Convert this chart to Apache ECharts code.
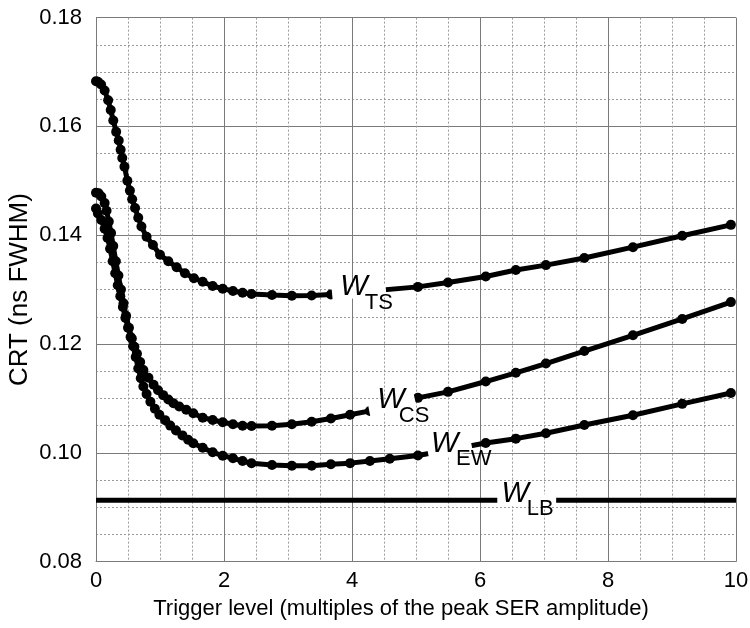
<!DOCTYPE html>
<html><head><meta charset="utf-8">
<script src="https://cdn.jsdelivr.net/npm/echarts@6/dist/echarts.min.js"></script>
<style>html,body{margin:0;padding:0;background:#fff}#c{width:750px;height:628px}</style>
</head><body><div id="c"></div>
<script>
// ---- data ----
const tsX = [0,0.03,0.08,0.135,0.19,0.23,0.27,0.315,0.355,0.385,0.41,0.445,0.49,0.53,0.565,0.61,0.66,0.71,0.79,0.89,1.0,1.13,1.26,1.39,1.53,1.667,1.823,1.98,2.14,2.29,2.43,2.75,3.06,3.37,3.67,5.03,5.5,6.09,6.56,7.03,7.63,8.39,9.16,9.92];
const tsY = [0.1683,0.1682,0.1677,0.1666,0.1648,0.1630,0.1611,0.1590,0.1574,0.1557,0.1542,0.1526,0.1500,0.1482,0.1466,0.1450,0.1432,0.1416,0.1397,0.1382,0.1364,0.1352,0.1341,0.1330,0.1321,0.13145,0.13066,0.13017,0.12974,0.12943,0.12919,0.1290,0.12888,0.1289,0.1291,0.1305,0.1313,0.1324,0.1336,0.1345,0.1358,0.1378,0.1399,0.1419];

const csX = [0,0.04,0.083,0.135,0.165,0.2,0.235,0.27,0.31,0.35,0.39,0.43,0.47,0.515,0.56,0.6,0.64,0.69,0.74,0.82,0.9,0.97,1.05,1.13,1.21,1.3,1.41,1.52,1.667,1.823,1.98,2.14,2.29,2.43,2.75,3.06,3.37,3.67,3.97,4.28,4.59,5.03,5.5,6.09,6.56,7.03,7.63,8.39,9.16,9.92];
const csY = [0.1478,0.1477,0.1471,0.1459,0.1445,0.1425,0.1404,0.1380,0.1352,0.1326,0.1300,0.1275,0.1252,0.1230,0.1210,0.1195,0.1182,0.1167,0.1152,0.1138,0.1125,0.1115,0.1106,0.1098,0.1091,0.1085,0.1079,0.10726,0.10645,0.10603,0.10561,0.10524,0.10498,0.10493,0.10498,0.10524,0.1057,0.1063,0.1070,0.1077,0.1089,0.1101,0.1112,0.1131,0.1147,0.1164,0.1187,0.1216,0.1246,0.1277];

const ewX = [0,0.03,0.083,0.135,0.18,0.22,0.26,0.3,0.34,0.38,0.42,0.46,0.5,0.54,0.58,0.62,0.66,0.7,0.74,0.79,0.85,0.92,0.99,1.08,1.16,1.25,1.35,1.44,1.52,1.667,1.823,1.98,2.14,2.29,2.43,2.75,3.06,3.37,3.67,3.97,4.28,4.59,5.03,5.5,6.09,6.56,7.03,7.63,8.39,9.16,9.92];
const ewY = [0.1449,0.1440,0.1428,0.1412,0.1395,0.1375,0.1352,0.1330,0.1308,0.1288,0.1268,0.1248,0.1230,0.1213,0.1196,0.1176,0.1155,0.1137,0.1122,0.1108,0.1094,0.1081,0.1070,0.1060,0.1050,0.1041,0.1032,0.1024,0.10175,0.10094,0.10009,0.09947,0.09899,0.09849,0.09807,0.09776,0.09763,0.09763,0.09789,0.0981,0.0985,0.0989,0.0995,0.1005,0.1018,0.1026,0.1036,0.1051,0.1069,0.1090,0.1110];

const lbX = [0, 10];
const lbY = [0.0913, 0.0913];

const xTickValues = [0, 2, 4, 6, 8, 10];
const yTickLabels = ['0.08', '0.10', '0.12', '0.14', '0.16', '0.18'];
const labelSubs = ['TS', 'CS', 'EW', 'LB'];

// ---- annotation layout (label anchor in data space, line gap in data x) ----
const annot = [
  {sub: labelSubs[0], series: 0, at: [4.03, 0.1305], subDx: 25, subDy: 16, gap: [3.69, 4.53]},
  {sub: labelSubs[1], series: 1, at: [4.61, 0.1097], subDx: 23, subDy: 16, gap: [4.27, 4.98]},
  {sub: labelSubs[2], series: 2, at: [5.45, 0.1016], subDx: 29, subDy: 15, gap: [5.19, 5.87]},
  {sub: labelSubs[3], series: 3, at: [6.55, 0.0924], subDx: 25, subDy: 15, gap: [6.27, 7.19]}
];

const pairs = (xs, ys) => xs.map((x, i) => [x, ys[i]]);
const seriesXY = [[tsX, tsY], [csX, csY], [ewX, ewY], [lbX, lbY]];

const FONT = '"Liberation Sans", Arial, sans-serif';
const gridColor = '#7a7a7a';

const dotSeries = (name, xs, ys) => ({
  name, type: 'line', data: pairs(xs, ys),
  symbol: 'circle', symbolSize: 10, showSymbol: true, showAllSymbol: true,
  lineStyle: {color: '#000', width: 5}, itemStyle: {color: '#000'},
  emphasis: {disabled: true}, animation: false, z: 3
});

const option = {
  animation: false,
  backgroundColor: '#fff',
  grid: {left: 96, right: 14, top: 17.6, bottom: 66.4, outerBoundsMode: 'none'},
  xAxis: {
    type: 'value', min: 0, max: 10, interval: 2,
    name: 'Trigger level (multiples of the peak SER amplitude)',
    nameLocation: 'middle', nameGap: 36, nameMoveOverlap: false,
    nameTextStyle: {fontFamily: FONT, fontSize: 22, color: '#000', padding: [0, 30, 0, 0]},
    axisLine: {show: true, lineStyle: {color: gridColor, width: 1}},
    axisTick: {show: false},
    axisLabel: {fontFamily: FONT, fontSize: 22, color: '#000', margin: 8,
      formatter: v => (xTickValues.indexOf(v) >= 0 ? String(v) : '')},
    splitLine: {show: true, lineStyle: {color: gridColor, width: 1}},
    minorTick: {show: false, splitNumber: 4},
    minorSplitLine: {show: true, lineStyle: {color: '#9a9a9a', width: 1, type: [2, 2]}}
  },
  yAxis: {
    type: 'value', min: 0.08, max: 0.18, interval: 0.02,
    name: 'CRT (ns FWHM)', nameLocation: 'middle', nameGap: 63, nameRotate: 90, nameMoveOverlap: false,
    nameTextStyle: {fontFamily: FONT, fontSize: 26, color: '#000'},
    axisLine: {show: true, lineStyle: {color: gridColor, width: 1}},
    axisTick: {show: false},
    axisLabel: {fontFamily: FONT, fontSize: 22, color: '#000', margin: 14,
      formatter: v => yTickLabels[Math.round((v - 0.08) / 0.02)]},
    splitLine: {show: true, lineStyle: {color: gridColor, width: 1}},
    minorTick: {show: false, splitNumber: 4},
    minorSplitLine: {show: true, lineStyle: {color: '#9a9a9a', width: 1, type: [2, 2]}}
  },
  series: [
    dotSeries('W_TS', tsX, tsY),
    dotSeries('W_CS', csX, csY),
    dotSeries('W_EW', ewX, ewY),
    {name: 'W_LB', type: 'line', data: pairs(lbX, lbY), showSymbol: false, symbol: 'none',
     lineStyle: {color: '#000', width: 5}, emphasis: {disabled: true}, z: 3}
  ]
};

const chart = echarts.init(document.getElementById('c'), null, {renderer: 'canvas'});
chart.setOption(option);

function interp(xs, ys, x) {
  for (let i = 0; i < xs.length - 1; i++) {
    if (x >= xs[i] && x <= xs[i + 1]) {
      const t = (x - xs[i]) / (xs[i + 1] - xs[i]);
      return ys[i] + t * (ys[i + 1] - ys[i]);
    }
  }
  return ys[ys.length - 1];
}
const toPx = p => chart.convertToPixel({gridIndex: 0}, p);

const elements = [];
annot.forEach(a => {
  const [xs, ys] = seriesXY[a.series];
  const pts = [toPx([a.gap[0], interp(xs, ys, a.gap[0])])];
  xs.forEach((x, i) => { if (x > a.gap[0] && x < a.gap[1]) pts.push(toPx([x, ys[i]])); });
  pts.push(toPx([a.gap[1], interp(xs, ys, a.gap[1])]));
  elements.push({type: 'polyline', z: 100, silent: true,
    shape: {points: pts}, style: {stroke: '#fff', lineWidth: 12, fill: null, lineCap: 'butt', lineJoin: 'miter'}});
  const c = toPx(a.at);
  elements.push({type: 'text', z: 101, silent: true, x: c[0], y: c[1],
    style: {text: 'W', fill: '#000', font: 'italic 29px ' + FONT,
      align: 'center', verticalAlign: 'middle', textAlign: 'center', textVerticalAlign: 'middle'}});
  elements.push({type: 'text', z: 101, silent: true, x: c[0] + a.subDx, y: c[1] + a.subDy,
    style: {text: a.sub, fill: '#000', font: '22px ' + FONT,
      align: 'center', verticalAlign: 'middle', textAlign: 'center', textVerticalAlign: 'middle'}});
});
chart.setOption({graphic: {elements}});
</script>
</body></html>
